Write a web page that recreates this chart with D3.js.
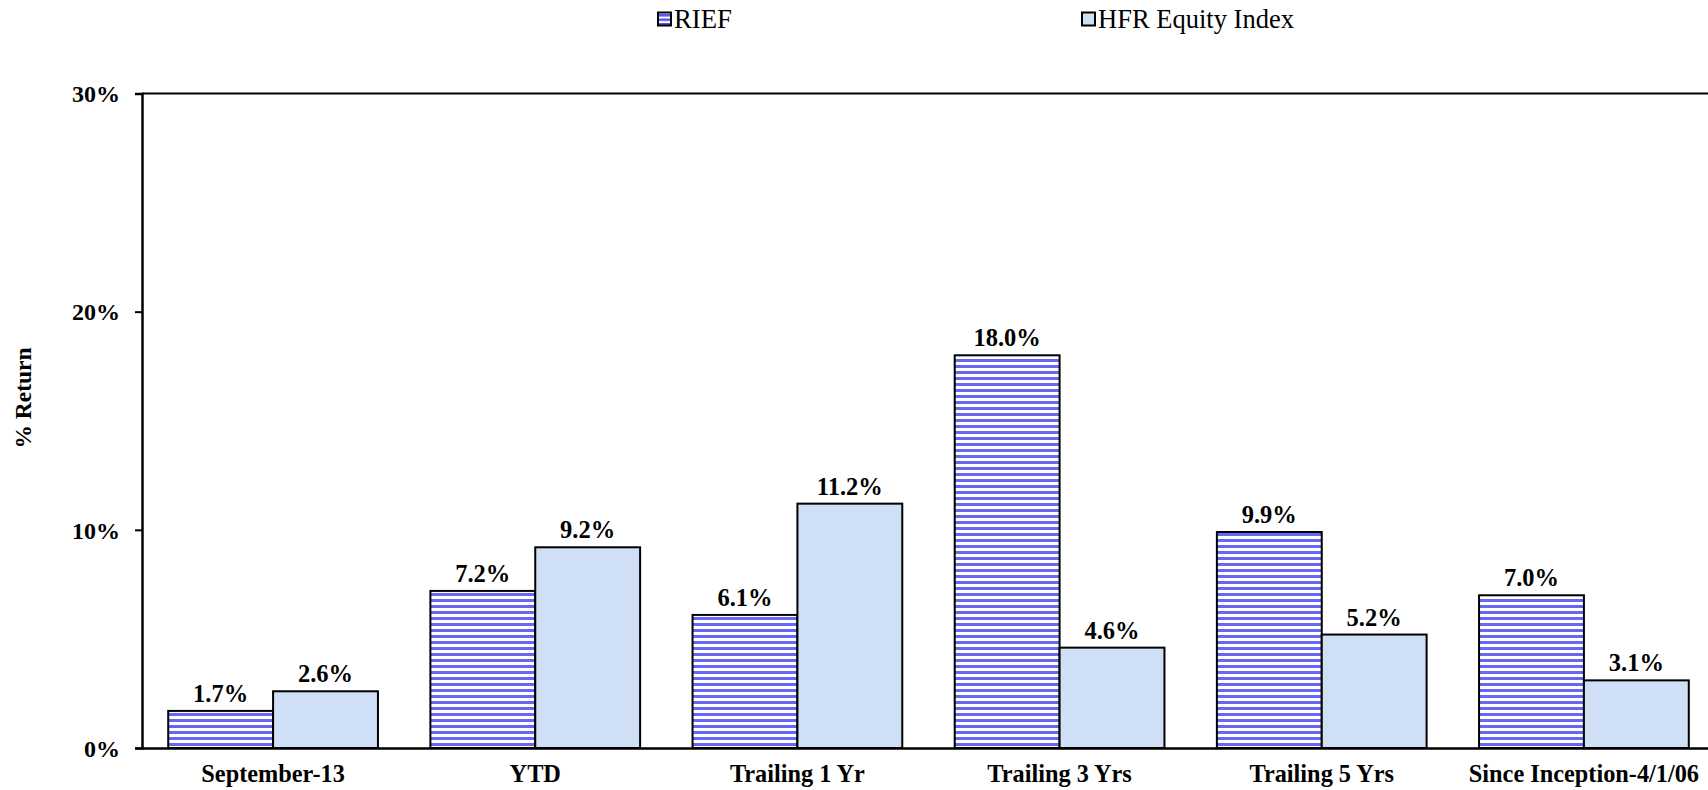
<!DOCTYPE html>
<html>
<head>
<meta charset="utf-8">
<script src="https://cdn.jsdelivr.net/npm/d3@7"></script>
<style>
  html, body { margin: 0; padding: 0; background: #fff; }
  svg { display: block; font-family: "Liberation Serif", "Times New Roman", serif; }
</style>
</head>
<body>
<svg id="chart" width="1708" height="790"></svg>
<script>
const categories = ["September-13", "YTD", "Trailing 1 Yr", "Trailing 3 Yrs", "Trailing 5 Yrs", "Since Inception-4/1/06"];
const seriesNames = ["RIEF", "HFR Equity Index"];
const riefValues = [1.7, 7.2, 6.1, 18.0, 9.9, 7.0];
const hfrValues = [2.6, 9.2, 11.2, 4.6, 5.2, 3.1];
const yTicks = [0, 10, 20, 30];
const yTitle = "% Return";

const FONT = "Liberation Serif, Times New Roman, serif";
const svg = d3.select("#chart");
const mLeft = 142, mRight = 1715, mTop = 93.5, mBottom = 748;

const defs = svg.append("defs");
const pat = defs.append("pattern").attr("id", "stripes")
  .attr("patternUnits", "userSpaceOnUse").attr("width", 8).attr("height", 6)
  .attr("patternTransform", "translate(0,5)");
pat.append("rect").attr("width", 8).attr("height", 6).attr("fill", "#ffffff");
pat.append("rect").attr("width", 8).attr("height", 3).attr("fill", "#6767f7");

const pat2 = defs.append("pattern").attr("id", "stripesSmall")
  .attr("patternUnits", "userSpaceOnUse").attr("width", 8).attr("height", 4.5)
  .attr("patternTransform", "translate(0,14)");
pat2.append("rect").attr("width", 8).attr("height", 4.5).attr("fill", "#ffffff");
pat2.append("rect").attr("width", 8).attr("height", 2.5).attr("fill", "#5555ee");

const x0 = d3.scaleBand().domain(categories).range([mLeft, mRight]).paddingInner(0.2).paddingOuter(0.1);
const x1 = d3.scaleBand().domain(seriesNames).range([0, x0.bandwidth()]);
const y = d3.scaleLinear().domain([0, 30]).range([mBottom, mTop]);

const data = categories.map((c, i) => ({cat: c, vals: [riefValues[i], hfrValues[i]]}));
const fills = ["url(#stripes)", "#cfdff5"];

// plot border (top line)
svg.append("line").attr("x1", mLeft).attr("x2", mRight).attr("y1", y(30)).attr("y2", y(30))
  .attr("stroke", "#000").attr("stroke-width", 2);

const groups = svg.append("g").selectAll("g").data(data).join("g")
  .attr("transform", d => `translate(${x0(d.cat)},0)`);

groups.selectAll("rect").data(d => d.vals.map((v, j) => ({v, j})))
  .join("rect")
  .attr("x", d => x1(seriesNames[d.j]))
  .attr("y", d => y(d.v))
  .attr("width", x1.bandwidth())
  .attr("height", d => y(0) - y(d.v))
  .attr("fill", d => fills[d.j])
  .attr("stroke", "#000").attr("stroke-width", 2);

groups.selectAll("text.val").data(d => d.vals.map((v, j) => ({v, j})))
  .join("text").attr("class", "val")
  .attr("x", d => x1(seriesNames[d.j]) + x1.bandwidth() / 2)
  .attr("y", d => y(d.v) - 9)
  .attr("text-anchor", "middle")
  .attr("font-family", FONT)
  .attr("font-weight", "bold").attr("font-size", 24.5)
  .text(d => d.v.toFixed(1) + "%");

// y axis
const yAxis = d3.axisLeft(y).tickValues(yTicks).tickSize(7).tickPadding(15).tickFormat(d => d + "%");
const ya = svg.append("g").attr("transform", `translate(${mLeft},0)`).call(yAxis);
ya.select(".domain").attr("stroke", "#000").attr("stroke-width", 2.5);
ya.selectAll(".tick line").attr("stroke", "#000").attr("stroke-width", 2);
ya.selectAll(".tick text").attr("font-family", FONT).attr("font-weight", "bold")
  .attr("font-size", 24).attr("fill", "#000").attr("dy", "0.34em");

// x axis
const xAxis = d3.axisBottom(x0).tickSize(0).tickPadding(22);
const xa = svg.append("g").attr("transform", `translate(0,${mBottom})`).call(xAxis);
xa.select(".domain").attr("stroke", "#000").attr("stroke-width", 2.5);
xa.selectAll(".tick text").attr("font-family", FONT).attr("font-weight", "bold")
  .attr("font-size", 24.3).attr("fill", "#000").attr("dy", "0.71em")
  .attr("transform", "translate(0,-5)");

// y title
svg.append("text").attr("transform", `translate(31,398) rotate(-90)`)
  .attr("text-anchor", "middle").attr("font-family", FONT)
  .attr("font-weight", "bold").attr("font-size", 23.5)
  .text(yTitle);

// legend
const legendX = [658, 1082];
const legendW = [58, 196];
const legendFills = ["url(#stripesSmall)", "#cfdff5"];
seriesNames.forEach((name, i) => {
  svg.append("rect").attr("x", legendX[i]).attr("y", 12.5).attr("width", 13).attr("height", 13)
    .attr("fill", legendFills[i]).attr("stroke", "#000").attr("stroke-width", 2);
  svg.append("text").attr("x", legendX[i] + 16).attr("y", 27.5)
    .attr("font-family", FONT)
    .attr("font-size", 26.5).attr("fill", "#000")
    .attr("textLength", legendW[i]).attr("lengthAdjust", "spacingAndGlyphs")
    .text(name);
});
</script>
</body>
</html>
